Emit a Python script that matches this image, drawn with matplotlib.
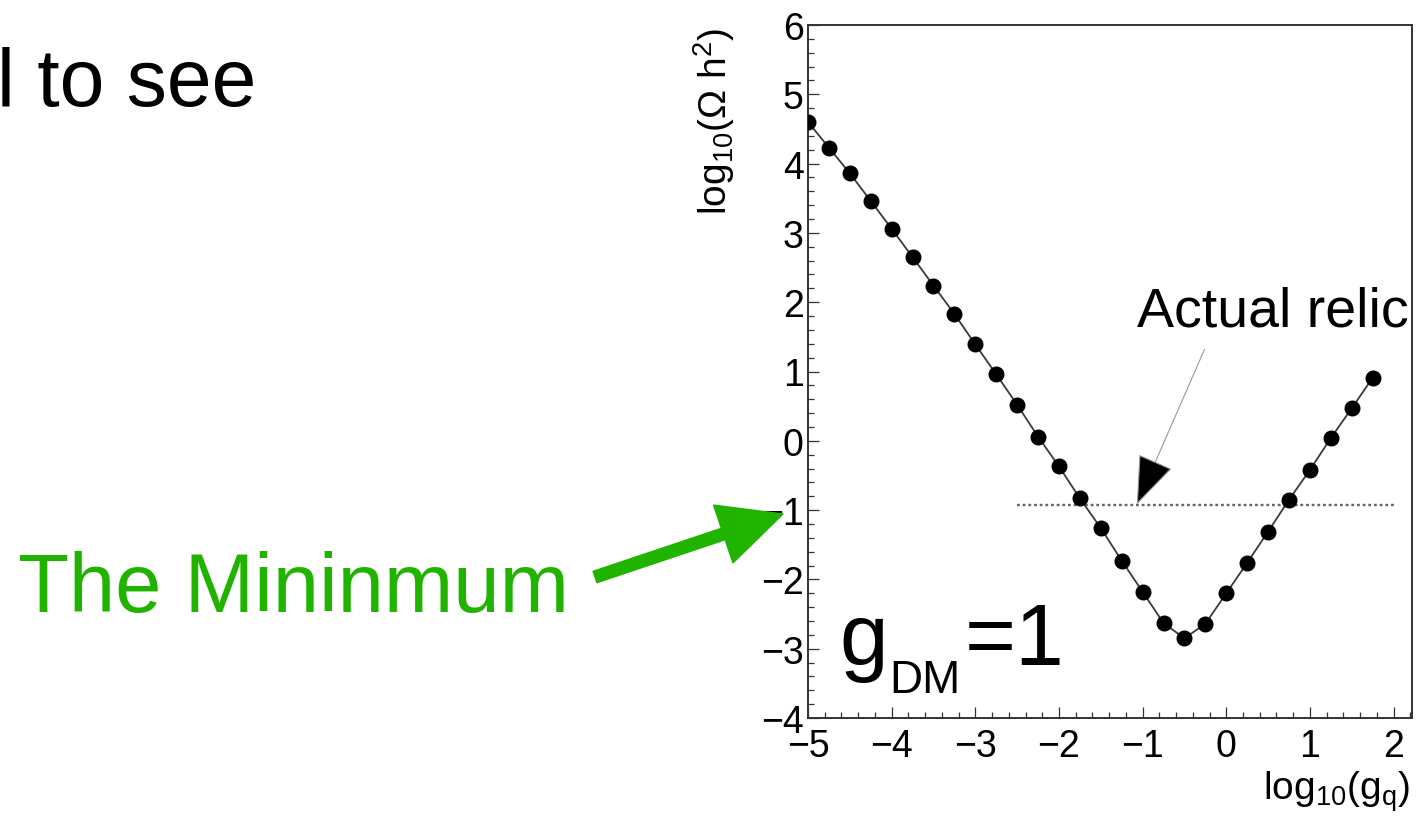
import matplotlib
matplotlib.use('Agg')
import matplotlib.pyplot as plt
from matplotlib.patches import FancyArrow
from matplotlib.ticker import MultipleLocator

plt.rcParams['font.family'] = 'Liberation Sans'
plt.rcParams['mathtext.fontset'] = 'custom'
plt.rcParams['mathtext.rm'] = 'Liberation Sans'
plt.rcParams['mathtext.it'] = 'Liberation Sans:italic'

# relic density scan vs quark coupling
log_gq = [-5.0, -4.75, -4.5, -4.25, -4.0, -3.75, -3.5, -3.25, -3.0, -2.75,
          -2.5, -2.25, -2.0, -1.75, -1.5, -1.25, -1.0, -0.75, -0.5, -0.25,
          0.0, 0.25, 0.5, 0.75, 1.0, 1.25, 1.5, 1.75]
log_omega = [4.60, 4.23, 3.86, 3.46, 3.06, 2.65, 2.24, 1.83, 1.39, 0.96,
             0.52, 0.06, -0.37, -0.83, -1.26, -1.73, -2.18, -2.63, -2.85, -2.64,
             -2.20, -1.76, -1.31, -0.85, -0.42, 0.04, 0.47, 0.91]

relic_value = -0.92
relic_span = [-2.5, 2.0]

W, H = 1416, 820
fig = plt.figure(figsize=(W / 100, H / 100), dpi=100)
fig.patch.set_facecolor('white')

ax = fig.add_axes([808 / W, 1 - 719 / H, (1412 - 808) / W, (719 - 26) / H])

ax.plot(log_gq, log_omega, color='#3a3a3a', linewidth=1.3, marker='o',
        markersize=10.5, markerfacecolor='black', markeredgecolor='black', zorder=3)
ax.plot(relic_span, [relic_value, relic_value], color='#666666', linewidth=1.7,
        linestyle=(0, (1.2, 1.2)), zorder=2)

ax.set_xlim(-5, 2.22)
ax.set_ylim(-4, 6)
ax.xaxis.set_major_locator(MultipleLocator(1))
ax.xaxis.set_minor_locator(MultipleLocator(0.2))
ax.yaxis.set_major_locator(MultipleLocator(1))
ax.yaxis.set_minor_locator(MultipleLocator(0.2))
ax.tick_params(which='both', direction='in', top=False, right=False,
               width=0.9, color='#333333', labelsize=27)
ax.tick_params(which='major', length=8)
ax.tick_params(which='minor', length=4)
ax.tick_params(axis='x', pad=7)
ax.tick_params(axis='y', pad=3)
for sp in ax.spines.values():
    sp.set_linewidth(1.4)
    sp.set_color('#333333')

# relic arrow: thin grey shaft, solid black head
ax.annotate('', xy=(-1.07, relic_value), xytext=(-0.26, 1.32),
            arrowprops=dict(arrowstyle='-|>,head_length=1.6,head_width=0.6',
                            mutation_scale=20, shrinkA=0, shrinkB=0,
                            ec='#9a9a9a', fc='black', lw=0.8))
ax.text(-1.07, 1.66, 'Actual relic', fontsize=40, ha='left', va='baseline')

# coupling label inside the frame
fig.text(839 / W, 1 - 665 / H, 'g', fontsize=63, ha='left', va='baseline')
fig.text(889 / W, 1 - 693 / H, 'DM', fontsize=33, ha='left', va='baseline')
fig.text(965 / W, 1 - 665 / H, '=1', fontsize=63, ha='left', va='baseline')

# axis titles
fig.text(1410 / W, 1 - 800 / H, r'$\mathrm{log}_{10}(\mathrm{g}_{\mathrm{q}})$',
         fontsize=28, ha='right', va='baseline')
fig.text(714 / W, 1 - 28 / H, r'$\mathrm{log}_{10}(\Omega\ \mathrm{h}^{2})$',
         fontsize=28, rotation=90, ha='center', va='top')

# slide text around the plot
fig.text(-3 / W, 1 - 106 / H, 'l to see', fontsize=58, ha='left', va='baseline')
fig.text(18 / W, 1 - 612 / H, 'The Mininmum', fontsize=60, color='#20b400',
         ha='left', va='baseline')

green_arrow = FancyArrow(5.95, 8.2 - 5.78, 1.88, 0.63, width=0.12,
                         head_width=0.61, head_length=0.63,
                         length_includes_head=True, color='#20b400',
                         transform=fig.dpi_scale_trans, clip_on=False)
fig.add_artist(green_arrow)

fig.savefig('out.png', dpi=100, facecolor='white')
